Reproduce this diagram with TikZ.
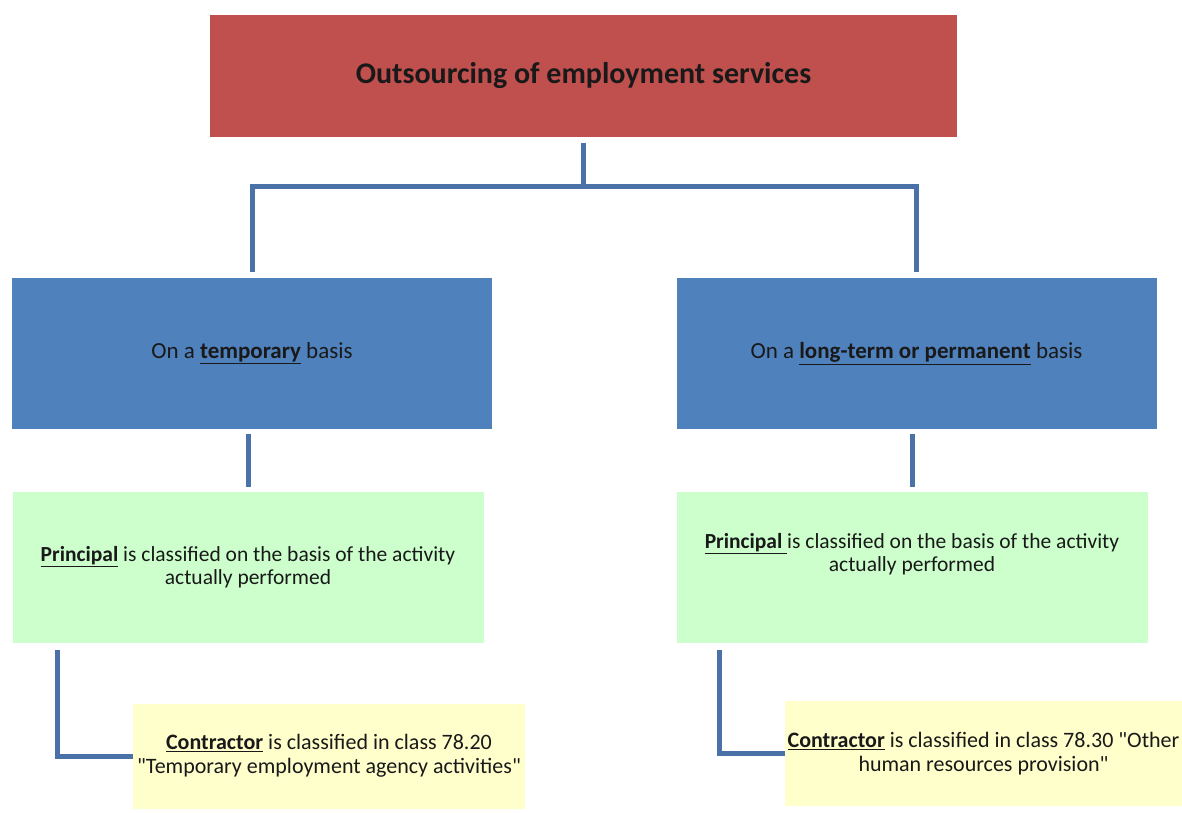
\documentclass[tikz,border=0pt]{standalone}
\usepackage{fontspec}
\setmainfont{Carlito}
\usepackage{xcolor}
\usetikzlibrary{positioning}
\definecolor{headred}{HTML}{C0504D}
\definecolor{basisblue}{HTML}{4F81BD}
\definecolor{linkblue}{HTML}{4A72A8}
\definecolor{principalgreen}{HTML}{CCFFCC}
\definecolor{contractoryellow}{HTML}{FFFFCC}

\begin{document}
\begin{tikzpicture}[x=1pt,y=1pt,
    box/.style={inner sep=0pt,align=center,text=black!90,font=\fontsize{21.5}{23}\selectfont},
    headbox/.style={box,fill=headred,minimum width=747pt,minimum height=122pt,font=\fontsize{30}{34}\selectfont\bfseries},
    basisbox/.style={box,fill=basisblue,minimum width=480pt,minimum height=151pt,font=\fontsize{23}{26}\selectfont},
    principalbox/.style={box,fill=principalgreen,minimum width=471pt,minimum height=151pt},
    contractorbox/.style={box,fill=contractoryellow,minimum height=105pt,font=\fontsize{22}{24}\selectfont},
    conn/.style={linkblue,line width=5pt}]
    \useasboundingbox (0,0) rectangle (1182,812);
    	\node[headbox] (top) at (583.5,736) {Outsourcing of employment services};
    	\node[basisbox] (temp) at (252,458.5) {On a \underline{\textbf{temporary}} basis};
    	\node[basisbox] (perm) at (916.5,458.5) {On a \underline{\textbf{long-term or permanent}} basis};
    	\node[principalbox] (prinL) at (248,244.5) {\underline{\textbf{Principal}} is classified on the basis of the activity\\actually performed};
    	\node[principalbox] (prinR) at (912,244.5) {\underline{\textbf{Principal }}is classified on the basis of the activity\\actually performed\\\strut};
    	\node[contractorbox,minimum width=392pt] (contL) at (329,56) {\underline{\textbf{Contractor}} is classified in class 78.20\\\textquotedbl Temporary employment agency activities\textquotedbl};
    	\node[contractorbox,minimum width=397pt] (contR) at (983.5,58.5) {\underline{\textbf{Contractor}} is classified in class 78.30 \textquotedbl Other\\human resources provision\textquotedbl};
    	\draw[conn] ([yshift=-6pt]top.south) -- ++(0,-43) -| ([yshift=6pt]temp.north);
    	\draw[conn] ([yshift=-6pt]top.south) ++(0,-43) -| ([yshift=6pt]perm.north);
    	\draw[conn] ([yshift=-5pt]prinL.north |- temp.south) -- ([yshift=5pt]prinL.north);
    	\draw[conn] ([yshift=-5pt]prinR.north |- perm.south) -- ([yshift=5pt]prinR.north);
    	\draw[conn] ([xshift=45pt,yshift=-7pt]prinL.south west) |- (contL.west);
    	\draw[conn] ([xshift=43pt,yshift=-7pt]prinR.south west) |- (contR.west);
    	\end{tikzpicture}
\end{document}
